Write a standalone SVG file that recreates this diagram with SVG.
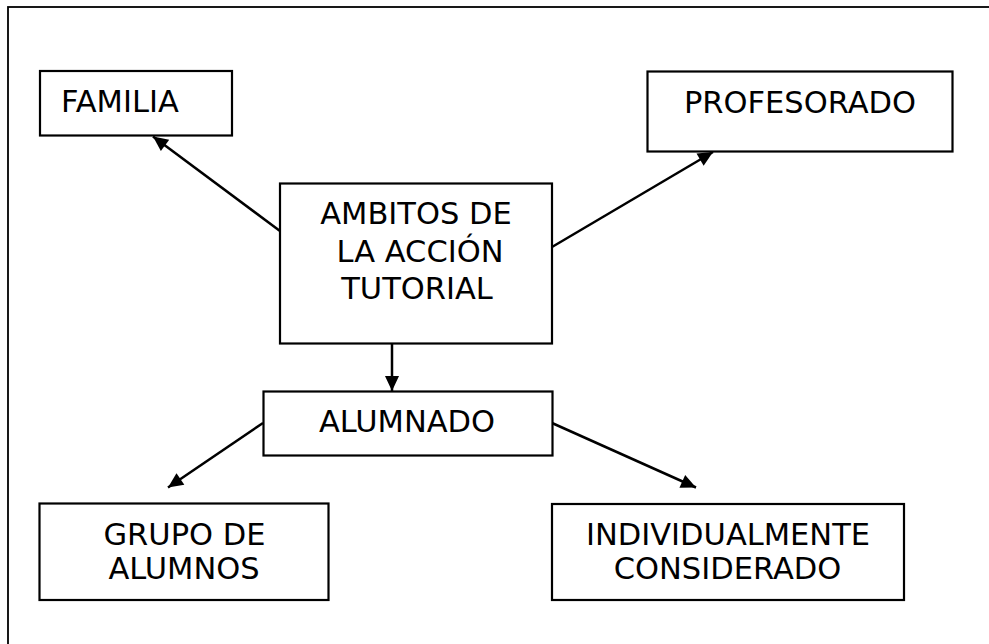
<svg xmlns="http://www.w3.org/2000/svg" width="989" height="644" viewBox="0 0 989 644">
<defs>
<marker id="arr" markerUnits="userSpaceOnUse" markerWidth="18" markerHeight="16" refX="15" refY="7" orient="auto" overflow="visible">
<path d="M0,0 L15,7 L0,14 z" fill="#000"/>
</marker>
<style>
.box{fill:#fff;stroke:#000;stroke-width:2.2}
.t{font-family:"DejaVu Sans",Verdana,sans-serif;font-size:30.5px;fill:#000}
.c{stroke:#000;stroke-width:2.5;fill:none;marker-end:url(#arr)}
</style>
</defs>
<rect x="0" y="0" width="989" height="644" fill="#fff"/>
<rect x="8" y="7" width="1100" height="800" fill="none" stroke="#000" stroke-width="1.8"/>
<g id="connectors">
<line class="c" x1="280" y1="231" x2="153" y2="136.5"/>
<line class="c" x1="552" y1="247" x2="713" y2="152"/>
<line class="c" x1="392" y1="343" x2="392" y2="391"/>
<line class="c" x1="263" y1="423" x2="168" y2="487.5"/>
<line class="c" x1="552" y1="423" x2="696" y2="487.5"/>
</g>
<g id="familia">
<rect class="box" x="40" y="71" width="192" height="64.5"/>
<text class="t" x="61" y="112">FAMILIA</text>
</g>
<g id="profesorado">
<rect class="box" x="647.5" y="71.5" width="305" height="80"/>
<text class="t" x="800" y="113" text-anchor="middle">PROFESORADO</text>
</g>
<g id="ambitos">
<rect class="box" x="280" y="183.5" width="272" height="160"/>
<text class="t" text-anchor="middle"><tspan x="416" y="224">AMBITOS DE</tspan><tspan x="420" y="261.5">LA ACCIÓN</tspan><tspan x="417" y="299">TUTORIAL</tspan></text>
</g>
<g id="alumnado">
<rect class="box" x="263.5" y="391.5" width="289" height="64"/>
<text class="t" x="407" y="431.5" text-anchor="middle">ALUMNADO</text>
</g>
<g id="grupo">
<rect class="box" x="39.5" y="503.5" width="289" height="96.5"/>
<text class="t" text-anchor="middle"><tspan x="184.5" y="544.5">GRUPO DE</tspan><tspan x="184" y="579">ALUMNOS</tspan></text>
</g>
<g id="individualmente">
<rect class="box" x="552" y="504" width="352" height="96"/>
<text class="t" text-anchor="middle"><tspan x="728" y="544.5">INDIVIDUALMENTE</tspan><tspan x="727.5" y="579">CONSIDERADO</tspan></text>
</g>
</svg>
